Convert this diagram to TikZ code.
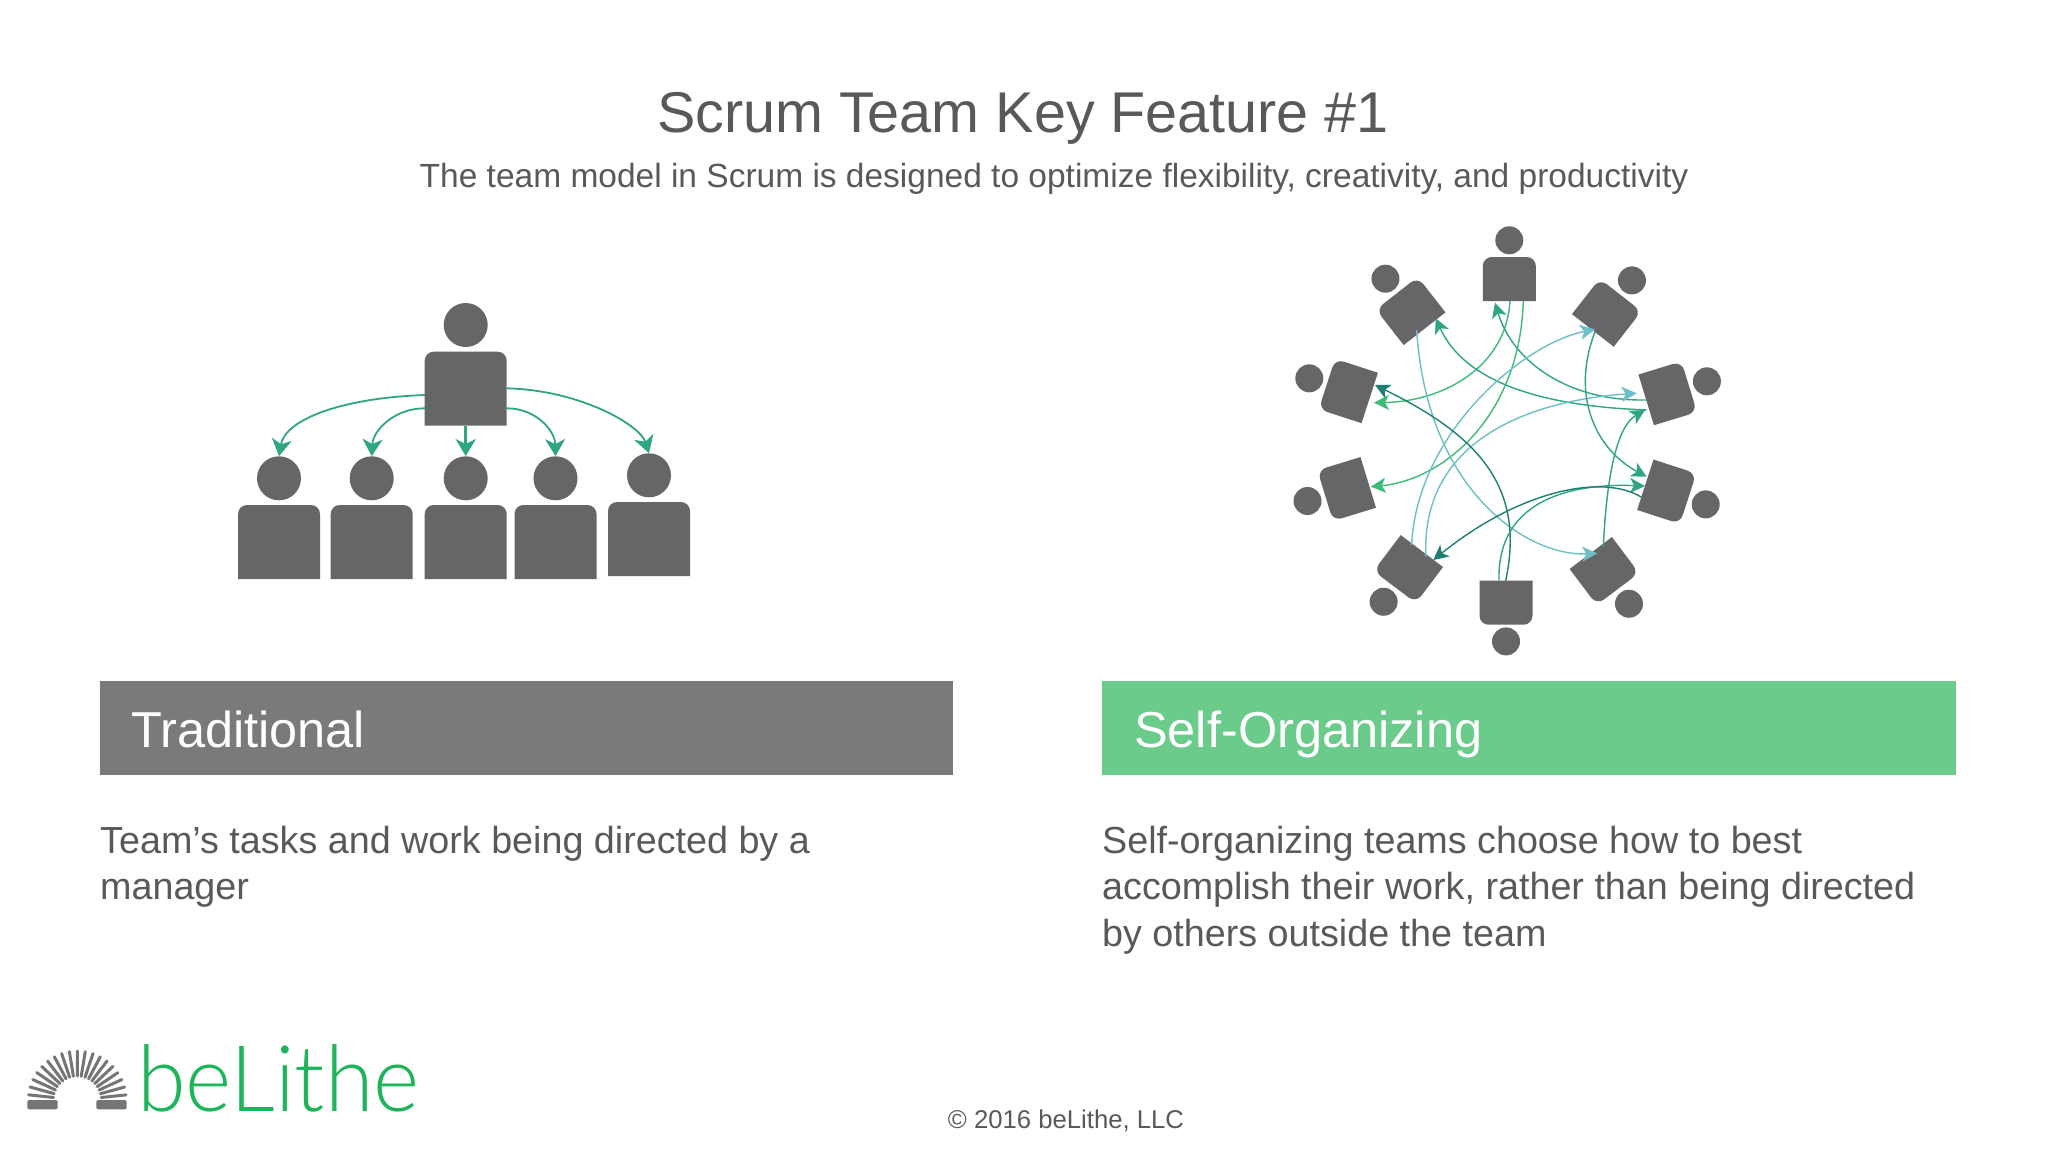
\documentclass[tikz,border=0pt]{standalone}
\usepackage{fontspec}
\usetikzlibrary{arrows.meta}
\setmainfont{Liberation Sans}
\newfontfamily\logofont[FakeStretch=0.96]{Lato Light}
\definecolor{inktext}{HTML}{58595B}
\definecolor{persongrey}{HTML}{666567}
\definecolor{bargrey}{HTML}{7A797B}
\definecolor{bargreen}{HTML}{6BCB8B}
\definecolor{logogreen}{HTML}{1DB45A}
\definecolor{flowgreen}{HTML}{3DBB78}
\definecolor{flowteal}{HTML}{2FA583}
\definecolor{flowblue}{HTML}{6FBFC6}
\definecolor{flowdark}{HTML}{1F7F72}
\tikzset{
    pics/person/.style args={#1/#2/#3/#4}{code={
        \fill[persongrey] ({-#1/2},{#2/2}) [rounded corners=9pt] -- ({-#1/2},{-#2/2}) -- ({#1/2},{-#2/2}) [sharp corners] -- ({#1/2},{#2/2}) -- cycle;
        \node[inner sep=0pt, minimum width=#1pt, minimum height=#2pt] (-body) at (0,0) {};
        \node[circle, fill=persongrey, inner sep=0pt, minimum size=2*#3pt] (-head) at (0,{-#4}) {};
    }},
    boss/.style={draw=flowteal, line width=1.8pt, -{Stealth[length=17pt, width=20pt, inset=5pt]}},
    flow/.style={line width=1.4pt, -{Stealth[length=15pt, width=15pt, inset=4pt]}},
    bartext/.style={anchor=base west, inner sep=0pt, text=white, font=\fontsize{50.5}{56}\selectfont},
    bodytext/.style={anchor=north west, inner sep=0pt, text=inktext, align=left, font=\fontsize{37.7}{46.4}\selectfont}
}
\begin{document}
\begin{tikzpicture}[x=1pt, y=-1pt]
    \useasboundingbox (0,0) rectangle (2048,1152);
    \fill[white] (0,0) rectangle (2048,1152);

    \node[anchor=base, inner sep=0pt, text=inktext, font=\fontsize{57.5}{60}\selectfont] (title) at (1023,132) {Scrum Team Key Feature \#1};
    \node[anchor=base, inner sep=0pt, text=inktext, font=\fontsize{33.5}{40}\selectfont] (subtitle) at (1054,187) {The team model in Scrum is designed to optimize flexibility, creativity, and productivity};

    \pic (top) at (465.7,388.7) {person=82/74/22/63.7};
    \pic (low1) at (279,542) {person=82/74/22/63.7};
    \pic (low2) at (371.7,542) {person=82/74/22/63.7};
    \pic (low3) at (465.7,542) {person=82/74/22/63.7};
    \pic (low4) at (555.5,542) {person=82/74/22/63.7};
    \pic (low5) at (649,539) {person=82/74/22/63.7};

    \draw[boss] ([shift={(-40.7,6.3)}]top-body.center) .. controls (340,398) and (285,420) .. (low1-head.north);
    \draw[boss] ([shift={(-40.7,19.6)}]top-body.center) .. controls (395,408) and (373,430) .. (low2-head.north);
    \draw[boss, line width=3pt] (top-body.south) -- (low3-head.north);
    \draw[boss] ([shift={(40.7,19.6)}]top-body.center) .. controls (535,408) and (555,430) .. (low4-head.north);
    \draw[boss] ([shift={(40.7,-0.4)}]top-body.center) .. controls (580,390) and (640,425) .. (low5-head.north);

    \pic[rotate=0] (A) at (1509.3,279) {person=53/44/14/38.7};
    \pic[rotate=-38] (B) at (1606.7,312.7) {person=53/45/14/41};
    \pic[rotate=-73] (C) at (1667.7,393.3) {person=53/45/14/41};
    \pic[rotate=-108] (D) at (1666.7,491.7) {person=53/45/14/41};
    \pic[rotate=-143] (E) at (1604.3,571) {person=53/45/14/41};
    \pic[rotate=180] (F) at (1506,602.7) {person=53/44/14/38.7};
    \pic[rotate=-217] (G) at (1408.3,569) {person=53/45/14/41};
    \pic[rotate=-253] (H) at (1346.7,489) {person=53/45/14/41};
    \pic[rotate=-288] (I) at (1348.3,391) {person=53/45/14/41};
    \pic[rotate=-322] (J) at (1410.7,311) {person=53/45/14/41};

    \begin{scope}[shift={(1270,210)}, x=.3333pt, y=-.3333pt]
        \draw[flow, draw=flowgreen] ([shift={(2,65)}]A-body.center) .. controls (710,470) and (520,575) .. ([shift={(77,35)}]I-body.center);
        \draw[flow, draw=flowgreen] ([shift={(42,65)}]A-body.center) .. controls (750,620) and (520,810) .. ([shift={(72,-7)}]H-body.center);
        \draw[flow, draw=flowteal] ([shift={(-63,20)}]C-body.center) .. controls (900,575) and (730,460) .. ([shift={(-43,71)}]A-body.center);
        \draw[flow, draw=flowteal] ([shift={(-63,50)}]C-body.center) .. controls (850,590) and (590,530) .. ([shift={(75,22)}]J-body.center);
        \draw[flow, draw=flowteal] ([shift={(-3,-73)}]E-body.center) .. controls (1010,800) and (1040,650) .. ([shift={(-68,50)}]C-body.center);
        \draw[flow, draw=flowblue] ([shift={(18,57)}]J-body.center) .. controls (470,840) and (770,1040) .. ([shift={(-21,-53)}]E-body.center);
        \draw[flow, draw=flowblue] ([shift={(10,-72)}]G-body.center) .. controls (440,670) and (760,400) .. ([shift={(-35,50)}]B-body.center);
        \draw[flow, draw=flowblue] ([shift={(53,-37)}]G-body.center) .. controls (450,680) and (800,570) .. ([shift={(-93,0)}]C-body.center);
        \draw[flow, draw=flowteal] ([shift={(-35,57)}]B-body.center) .. controls (900,560) and (980,720) .. ([shift={(-60,-45)}]D-body.center);
        \draw[flow, draw=flowdark] ([shift={(-1,-66)}]F-body.center) .. controls (770,820) and (610,670) .. ([shift={(80,-18)}]I-body.center);
        \draw[flow, draw=flowteal] ([shift={(-21,-66)}]F-body.center) .. controls (680,860) and (920,820) .. ([shift={(-65,-17)}]D-body.center);
        \draw[flow, draw=flowdark] ([shift={(-75,17)}]D-body.center) .. controls (1000,790) and (750,840) .. ([shift={(75,-27)}]G-body.center);
    \end{scope}

    \fill[bargrey] (100,681) rectangle (953,775);
    \fill[bargreen] (1102,681) rectangle (1956,775);
    \node[bartext] (traditional) at (131,747) {Traditional};
    \node[bartext] (selforg) at (1134,747) {Self-Organizing};

    \node[bodytext] (tradnote) at (100,826) {Team’s tasks and work being directed by a\\manager};
    \node[bodytext] (selfnote) at (1102,826) {Self-organizing teams choose how to best\\accomplish their work, rather than being directed\\by others outside the team};

    \foreach \a in {0,...,18}
        \draw[persongrey!90, line width=3pt, line cap=round] ({77.3+24*cos(6+\a*9.33)},{1100-24*sin(6+\a*9.33)}) -- ({77.3+49*cos(6+\a*9.33)},{1100-49*sin(6+\a*9.33)});
    \fill[persongrey!90, rounded corners=2pt] (27.3,1100) rectangle (57.7,1109.3);
    \fill[persongrey!90, rounded corners=2pt] (96.3,1100) rectangle (126.7,1109.3);
    \node[anchor=base west, inner sep=0pt, text=logogreen, font=\logofont\fontsize{92}{96}\selectfont] (logo) at (137,1111) {beLithe};

    \node[anchor=base, inner sep=0pt, text=inktext, font=\fontsize{25.7}{30}\selectfont] (copyright) at (1066,1128) {© 2016 beLithe, LLC};
\end{tikzpicture}
\end{document}
